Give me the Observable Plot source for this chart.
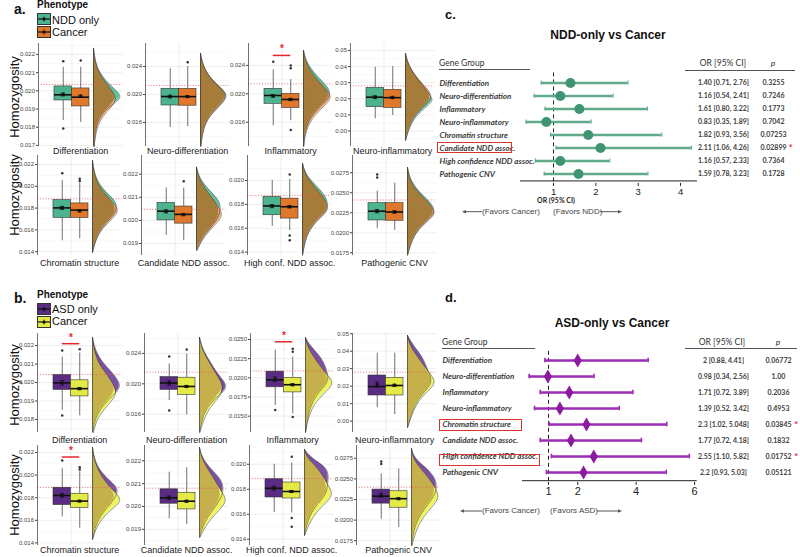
<!DOCTYPE html>
<html><head><meta charset="utf-8">
<script src="https://cdn.jsdelivr.net/npm/d3@7"></script>
<script src="https://cdn.jsdelivr.net/npm/@observablehq/plot@0.6"></script>
<style>
body{margin:0;background:#fff;}
#root{position:relative;width:800px;height:557px;overflow:hidden;font-family:"Liberation Sans",Arial,sans-serif;color:#111;}
.abs{position:absolute;white-space:nowrap;}
</style></head><body><div id="root"></div><script>
// ---------------- DATA ----------------
const genesShort = ["Differentiation","Neuro-differentiation","Inflammatory","Neuro-inflammatory","Chromatin structure","Candidate NDD assoc.","High conf. NDD assoc.","Pathogenic CNV"];
const ticksA = [["0.017","0.018","0.019","0.020","0.021","0.022"],["0.016","0.020","0.024"],["0.016","0.020","0.024"],["0.00","0.01","0.02","0.03","0.04","0.05"],["0.014","0.016","0.018","0.020","0.022"],["0.019","0.020","0.021","0.022"],["0.014","0.016","0.018","0.020"],["0.0175","0.0200","0.0225","0.0250","0.0275"]];
const ticksB = [["0.018","0.019","0.020","0.021","0.022"],["0.016","0.020","0.024"],["0.0150","0.0175","0.0200","0.0225","0.0250"],["0.00","0.01","0.02","0.03","0.04","0.05"],["0.014","0.016","0.018","0.020","0.022"],["0.019","0.020","0.021","0.022"],["0.014","0.016","0.018","0.020"],["0.0175","0.0200","0.0225","0.0250","0.0275"]];
const domainA = [[0.01694,0.0226],[0.01257,0.02729],[0.01258,0.02708],[-0.00963,0.05435],[0.01365,0.02283],[0.01848,0.02281],[0.01372,0.02209],[0.01716,0.02966]];
const domainB = [[0.0173,0.02265],[0.01359,0.02662],[0.01287,0.02578],[-0.00646,0.05011],[0.01377,0.02262],[0.01829,0.02267],[0.0135,0.0215],[0.01692,0.02905]];
// box stats: [lower whisker, q1, median, q3, upper whisker]
const boxNDD = [[0.01837,0.01947,0.01978,0.02024,0.02129],[0.01529,0.01843,0.01971,0.02082,0.0237],[0.0155,0.01859,0.01976,0.0207,0.0234],[0.0076,0.0148,0.021,0.0268,0.0396],[0.0150,0.0171,0.01802,0.01873,0.02053],[0.01935,0.0200,0.0204,0.02076,0.02141],[0.01615,0.01709,0.01787,0.01862,0.0200],[0.0205,0.02154,0.0227,0.0237,0.0252]];
const boxCancerA = [[0.01826,0.01914,0.01965,0.02013,0.0213],[0.0154,0.0184,0.0197,0.0208,0.0240],[0.0162,0.0180,0.0192,0.0200,0.0220],[0.0096,0.0144,0.0207,0.0256,0.0400],[0.0152,0.0171,0.01782,0.01843,0.0203],[0.01912,0.01986,0.02026,0.0206,0.0214],[0.0158,0.01681,0.0178,0.01848,0.0201],[0.0203,0.0215,0.0226,0.0237,0.0262]];
const meanNDD = [0.0198,0.01971,0.0197,0.0210,0.01802,0.02039,0.01785,0.0227];
const meanCancerA = [0.0197,0.0197,0.0192,0.0208,0.01775,0.02025,0.0178,0.0226];
const seNDD = [0.00008,0.0002,0.0002,0.0009,0.00014,0.00007,0.00013,0.0002];
const seCancerA = [0.00006,0.00015,0.00015,0.0007,0.0001,0.00005,0.0001,0.00015];
const outNDD = [[0.02162,0.01793],[],[0.0245],[],[0.0212],[],[],[0.0273,0.0269]];
const outCancerA = [[0.02167],[0.0246],[0.0240,0.0236,0.0149],[],[0.0207,0.0205],[0.0217],[0.0205,0.0154,0.0150],[]];
const boxASD = [[0.01849,0.0196,0.01998,0.0204,0.02137],[0.0178,0.0192,0.0201,0.02088,0.0226],[0.0164,0.01877,0.01974,0.0208,0.0236],[0.0077,0.0147,0.0198,0.0261,0.0389],[0.0163,0.01735,0.0182,0.01888,0.0206],[0.01946,0.02012,0.02038,0.02075,0.0215],[0.01614,0.01734,0.01808,0.0188,0.0200],[0.0201,0.0220,0.0229,0.0237,0.0256]];
const boxCancerB = [[0.0182,0.01925,0.01967,0.02012,0.0216],[0.0159,0.01855,0.01965,0.0208,0.0239],[0.0153,0.0181,0.0191,0.0200,0.0227],[0.0038,0.0147,0.0204,0.0248,0.0389],[0.0153,0.0171,0.0177,0.01835,0.0203],[0.0192,0.01987,0.02023,0.0206,0.0217],[0.0161,0.01726,0.01782,0.01854,0.0201],[0.0191,0.0215,0.0226,0.0235,0.0262]];
const meanASD = [0.01998,0.0201,0.0198,0.0210,0.0182,0.02038,0.01808,0.0230];
const meanCancerB = [0.01967,0.01965,0.0191,0.0205,0.0177,0.02023,0.01782,0.0226];
const seASD = [0.00013,0.0003,0.0003,0.0014,0.00017,0.00008,0.00016,0.00025];
const seCancerB = [0.00006,0.00013,0.00013,0.0006,0.00008,0.00004,0.00008,0.00012];
const outASD = [[0.02173,0.01822],[0.0236,0.0165],[0.0158],[],[0.0213],[],[],[0.0271,0.0268]];
const outCancerB = [[0.0218],[0.0245],[0.0238,0.0234,0.0149],[],[0.0207,0.0205],[],[0.0206,0.0157,0.0150],[]];
const refA = [0.02035,0.0213,0.0214,0.0280,0.01885,0.02048,0.01875,0.0241];
const refB = [0.02043,0.02153,0.0209,0.0280,0.0189,0.0208,0.01885,0.0240];
const sigA = [null,null,0.0254,null,null,null,null,null];
const sigB = [0.0221,null,0.0247,null,0.0216,null,null,null];
// density profiles: [value, relative density group1, relative density group2]
const densA = [
 [[0.02233,0,0],[0.02167,.05,.05],[0.02101,.2,.17],[0.02035,.55,.47],[0.01991,.88,.7],[0.01958,1,.8],[0.0192,.6,.7],[0.01865,.22,.33],[0.01793,.07,.1],[0.01694,.02,.02]],
 [[0.02586,0,0],[0.02414,.08,.08],[0.02229,.35,.33],[0.02086,.75,.72],[0.01986,.97,.93],[0.01871,.75,.78],[0.017,.3,.32],[0.01514,.08,.09],[0.01257,.01,.01]],
 [[0.0261,0,0],[0.0244,.1,.07],[0.02258,.45,.35],[0.02103,.85,.7],[0.02004,.95,.92],[0.0192,.85,.98],[0.01793,.5,.62],[0.01624,.17,.24],[0.0144,.04,.06],[0.01258,0,.01]],
 [[0.0481,0,0],[0.0407,.1,.1],[0.0326,.4,.42],[0.0264,.7,.76],[0.0221,.85,.92],[0.019,1,.86],[0.0146,.7,.6],[0.0065,.2,.18],[-0.0059,0,0]],
 [[0.02237,0,0],[0.02127,.05,.05],[0.02007,.25,.2],[0.01916,.6,.48],[0.01851,.85,.72],[0.01778,.85,.95],[0.01705,.65,.72],[0.01613,.3,.33],[0.01503,.1,.1],[0.01393,0,0]],
 [[0.0223,0,0],[0.02182,.1,.08],[0.0213,.45,.34],[0.02087,.8,.62],[0.02056,.85,.78],[0.02022,.8,.95],[0.01978,.58,.64],[0.01931,.22,.26],[0.0187,0,.02]],
 [[0.02142,0,0],[0.02042,.12,.1],[0.01941,.55,.45],[0.01858,.85,.75],[0.01782,.9,.92],[0.01724,.78,.82],[0.01649,.42,.44],[0.0154,.12,.12],[0.01375,0,0]],
 [[0.02816,0,0],[0.02679,.08,.06],[0.02529,.35,.3],[0.02404,.75,.67],[0.02304,.95,.9],[0.02229,.92,.98],[0.02129,.62,.65],[0.01979,.2,.21],[0.0172,0,0]]
];
const densB = [
 [[0.02243,0,0],[0.02173,.1,.06],[0.02108,.35,.2],[0.02054,.7,.45],[0.02011,.9,.65],[0.01973,1,.8],[0.0193,.72,.85],[0.01876,.35,.52],[0.01805,.08,.15],[0.0173,.01,.03]],
 [[0.02609,0,0],[0.02438,.12,.1],[0.0228,.4,.35],[0.02149,.6,.55],[0.02043,.85,.74],[0.01938,1,.84],[0.0182,.58,.7],[0.0165,.15,.25],[0.0136,0,.01]],
 [[0.02525,0,0],[0.02422,.15,.06],[0.02291,.5,.25],[0.02161,.7,.5],[0.0203,.8,.78],[0.01939,.78,1],[0.01834,.52,.78],[0.01704,.25,.38],[0.01508,.08,.1],[0.01287,0,0]],
 [[0.049,0,0],[0.0433,.2,.08],[0.0375,.5,.32],[0.0318,.65,.57],[0.0261,.8,.85],[0.0221,.85,1],[0.0175,.65,.75],[0.0107,.25,.3],[-0.0036,0,0]],
 [[0.02244,0,0],[0.02147,.06,.05],[0.02041,.25,.2],[0.01952,.6,.42],[0.01881,.92,.65],[0.01811,.82,.95],[0.01758,.68,1],[0.01669,.35,.52],[0.01554,.1,.15],[0.0143,0,0]],
 [[0.02258,0,0],[0.0221,.1,.08],[0.02157,.45,.32],[0.02114,.8,.55],[0.0207,.85,.75],[0.02026,.72,1],[0.01982,.45,.68],[0.0193,.15,.28],[0.01864,0,.01]],
 [[0.02118,0,0],[0.02046,.25,.1],[0.01974,.8,.45],[0.01894,.85,.68],[0.01814,.8,.88],[0.01758,.75,1],[0.01694,.5,.78],[0.0159,.15,.28],[0.0143,0,0]],
 [[0.02869,0,0],[0.02748,.1,.05],[0.02626,.55,.32],[0.02505,.85,.62],[0.02383,.9,.86],[0.02262,.75,1],[0.02117,.4,.6],[0.01934,.1,.2],[0.01692,0,.02]]
];
// forest plots
const forestGenes = ["Differentiation","Neuro-differentiation","Inflammatory","Neuro-inflammatory","Chromatin structure","Candidate NDD assoc.","High confidence NDD assoc.","Pathogenic CNV"];
const orC = [1.40,1.16,1.61,0.83,1.82,2.11,1.16,1.59];
const loC = [0.71,0.54,0.80,0.35,0.93,1.06,0.57,0.78];
const hiC = [2.76,2.41,3.22,1.89,3.56,4.26,2.33,3.23];
const orTextC = ["1.40 [0.71, 2.76]","1.16 [0.54, 2.41]","1.61 [0.80, 3.22]","0.83 [0.35, 1.89]","1.82 [0.93, 3.56]","2.11 [1.06, 4.26]","1.16 [0.57, 2.33]","1.59 [0.78, 3.23]"];
const pTextC = ["0.3255","0.7246","0.1773","0.7042","0.07253","0.02899","0.7364","0.1728"];
const sigC = [false,false,false,false,false,true,false,false];
const orD = [2,0.98,1.71,1.39,2.3,1.77,2.55,2.2];
const loD = [0.88,0.34,0.72,0.52,1.02,0.72,1.10,0.93];
const hiD = [4.41,2.56,3.89,3.42,5.048,4.18,5.82,5.03];
const orTextD = ["2 [0.88, 4.41]","0.98 [0.34, 2.56]","1.71 [0.72, 3.89]","1.39 [0.52, 3.42]","2.3 [1.02, 5.048]","1.77 [0.72, 4.18]","2.55 [1.10, 5.82]","2.2 [0.93, 5.03]"];
const pTextD = ["0.06772","1.00","0.2036","0.4953","0.03845","0.1832","0.01752","0.05121"];
const sigD = [false,false,false,false,true,false,true,false];
const forestTicksC = [1,2,3,4];
const forestTicksD = [1,2,4,6];

// ---------------- LAYOUT ----------------
const root = document.getElementById("root");
const U = 17.5, XMIN = -0.914, XMAX = 3.9, XB = 2.23, VS = 1.62;
const rowsA = [{top:43,bottom:146,labelY:151,boxL:[54,161,264,366]},{top:155,bottom:255,labelY:263,boxL:[53,157,263,368]}];
const rowsB = [{top:333,bottom:432,labelY:440,boxL:[53,160,266,368]},{top:445,bottom:545,labelY:550,boxL:[53,160,265,372]}];
const palA = {box:["#4db38e","#e0782c"], v1:"#5ec59d", v2:"#f0a36e", vo:"#a67c3b"};
const palB = {box:["#5b2c84","#e5eb46"], v1:"#7c50a4", v2:"#eff35c", vo:"#c6b04b"};

function put(el, left, top){ el.style.position="absolute"; el.style.left=left+"px"; el.style.top=top+"px"; root.appendChild(el); }
function txt(s, x, y, fs, extra="", anchor="start"){
  const d=document.createElement("div"); d.className="abs";
  d.style.cssText += `left:${x}px;top:${y}px;font-size:${fs}px;line-height:1;transform:translate(${anchor==="middle"?"-50%":"0"},-50%);${extra}`;
  d.textContent=s; root.appendChild(d); return d;
}

function rain(p){
  const mt=8, mb=16, ml=34, fw=(XMAX-XMIN)*U, width=121;
  const height=p.bottom-p.top+mt+mb;
  const tv=p.ticks.map(Number);
  const fmt=new Map(p.ticks.map(t=>[+t,t]));
  const step=tv[1]-tv[0];
  const minor=[]; for(let v=tv[0]-step/2; v<=p.domain[1]; v+=step){ if(v>=p.domain[0]) minor.push(v); }
  const mk=(s,m,e,x1,fill)=>({x1,x2:x1+1,xc:x1+0.5,lo:s[0],q1:s[1],med:s[2],q3:s[3],hi:s[4],mean:m,se:e,fill});
  const b1=mk(p.s1,p.m1,p.e1,0,p.pal.box[0]), b2=mk(p.s2,p.m2,p.e2,1,p.pal.box[1]);
  const boxes=[b1,b2];
  const outs=[...p.o1.map(v=>({x:0.5,y:v})),...p.o2.map(v=>({x:1.5,y:v}))];
  const dens=p.dens;
  const marks=[
    Plot.ruleY(minor,{stroke:"#f1f1f1",strokeWidth:0.5}),
    Plot.ruleY(tv,{stroke:"#e3e3e3",strokeWidth:0.6}),
    Plot.ruleX([1],{stroke:"#e3e3e3",strokeWidth:0.6}),
    Plot.areaX(dens,{y:d=>d[0],x1:()=>XB,x2:d=>XB+d[1]*VS,fill:p.pal.v1,curve:"basis"}),
    Plot.areaX(dens,{y:d=>d[0],x1:()=>XB,x2:d=>XB+d[2]*VS,fill:p.pal.v2,curve:"basis"}),
    Plot.areaX(dens,{y:d=>d[0],x1:()=>XB,x2:d=>XB+Math.min(d[1],d[2])*VS,fill:p.pal.vo,curve:"basis"}),
    Plot.line(dens,{x:d=>XB+d[1]*VS,y:d=>d[0],curve:"basis",stroke:"#2a2a2a",strokeWidth:0.5}),
    Plot.line(dens,{x:d=>XB+d[2]*VS,y:d=>d[0],curve:"basis",stroke:"#2a2a2a",strokeWidth:0.5}),
    Plot.ruleX([XB],{y1:()=>dens[0][0],y2:()=>dens[dens.length-1][0],stroke:"#2a2a2a",strokeWidth:0.6}),
    Plot.ruleY([p.ref],{stroke:"#e0605e",strokeWidth:0.9,strokeDasharray:"1,1.8"}),
    Plot.ruleX(boxes,{x:"xc",y1:"lo",y2:"q1",stroke:"#333",strokeWidth:0.7}),
    Plot.ruleX(boxes,{x:"xc",y1:"q3",y2:"hi",stroke:"#333",strokeWidth:0.7}),
    Plot.rect([b1],{x1:"x1",x2:"x2",y1:"q1",y2:"q3",fill:p.pal.box[0],stroke:"#333",strokeWidth:0.6}),
    Plot.rect([b2],{x1:"x1",x2:"x2",y1:"q1",y2:"q3",fill:p.pal.box[1],stroke:"#333",strokeWidth:0.6}),
    Plot.ruleY(boxes,{y:"med",x1:"x1",x2:"x2",stroke:"#111",strokeWidth:1.6}),
    Plot.ruleX(boxes,{x:"xc",y1:d=>d.mean-d.se,y2:d=>d.mean+d.se,stroke:"#111",strokeWidth:0.8}),
    Plot.ruleY(boxes,{y:d=>d.mean-d.se,x1:d=>d.xc-0.13,x2:d=>d.xc+0.13,stroke:"#111",strokeWidth:0.7}),
    Plot.ruleY(boxes,{y:d=>d.mean+d.se,x1:d=>d.xc-0.13,x2:d=>d.xc+0.13,stroke:"#111",strokeWidth:0.7}),
    Plot.dot(boxes,{x:"xc",y:"mean",r:1.7,fill:"#111"}),
    Plot.dot(outs,{x:"x",y:"y",r:1.25,fill:"#333"}),
    Plot.ruleX([XMIN],{stroke:"#333",strokeWidth:0.7}),
    Plot.axisY({ticks:tv,tickFormat:d=>fmt.get(d)??"",fontSize:6,tickSize:2,tickPadding:1.5,color:"#444",label:null}),
    Plot.text([p.gene],{text:d=>d,frameAnchor:"bottom",dy:p.labelY-p.bottom,lineAnchor:"middle",fontSize:9,fill:"#1a1a1a"})
  ];
  if(p.sig!=null){
    marks.push(Plot.ruleY([p.sig],{x1:()=>0.5,x2:()=>1.5,stroke:"#e8262a",strokeWidth:1.5}));
    marks.push(Plot.text(["*"],{text:d=>d,x:()=>1,y:()=>p.sig,dy:-3,lineAnchor:"bottom",fill:"#e8262a",fontSize:10,fontWeight:"bold"}));
  }
  const svg=Plot.plot({width,height,marginLeft:ml,marginRight:width-ml-fw,marginTop:mt,marginBottom:mb,
    x:{domain:[XMIN,XMAX],axis:null},y:{domain:p.domain},
    style:{fontFamily:"Liberation Sans, Arial, sans-serif",background:"transparent",overflow:"visible"},marks});
  put(svg,p.boxL-50,p.top-mt);
}

function panel(rows,boxes1,boxes2,m1,m2,e1,e2,o1,o2,dens,ref,sig,ticks,domains,pal){
  for(let i=0;i<8;i++){
    const r=rows[Math.floor(i/4)], c=i%4;
    rain({top:r.top,bottom:r.bottom,labelY:r.labelY,boxL:r.boxL[c],domain:domains[i],ticks:ticks[i],
      s1:boxes1[i],s2:boxes2[i],m1:m1[i],m2:m2[i],e1:e1[i],e2:e2[i],o1:o1[i],o2:o2[i],dens:dens[i],ref:ref[i],sig:sig[i],gene:genesShort[i],pal});
  }
}
panel(rowsA,boxNDD,boxCancerA,meanNDD,meanCancerA,seNDD,seCancerA,outNDD,outCancerA,densA,refA,sigA,ticksA,domainA,palA);
panel(rowsB,boxASD,boxCancerB,meanASD,meanCancerB,seASD,seCancerB,outASD,outCancerB,densB,refB,sigB,ticksB,domainB,palB);

// y titles
for(const cy of [97,195,385,495]){
  const d=txt("Homozygosity",14,cy,13,"color:#111;");
  d.style.transform="translate(-50%,-50%) rotate(-90deg)";
}
// legends
function key(fill,x,y){
  const d=document.createElement("div");
  d.innerHTML=`<svg width="14" height="12" style="display:block"><rect x="0.5" y="0.5" width="13" height="11" fill="${fill}" stroke="#333"/><line x1="1" x2="13" y1="6" y2="6" stroke="#111" stroke-width="1.2"/><line x1="7" x2="7" y1="3.5" y2="8.5" stroke="#111" stroke-width="0.8"/><circle cx="7" cy="6" r="1.6" fill="#111"/></svg>`;
  put(d,x,y);
}
txt("a.",14,9,14,"font-weight:bold;");
txt("Phenotype",37,4.5,10,"font-weight:bold;");
key(palA.box[0],37,13); key(palA.box[1],37,26);
txt("NDD only",52,19.5,11); txt("Cancer",52,32,11);
txt("b.",14,298,14,"font-weight:bold;");
txt("Phenotype",37,294.5,10,"font-weight:bold;");
key(palB.box[0],37,303); key(palB.box[1],37,315.5);
txt("ASD only",52,308.5,11); txt("Cancer",52,321,11);

// ---------------- FOREST ----------------
function forest(p){
  const rows=forestGenes.map((g,i)=>({g,or:p.or[i],lo:p.lo[i],hi:p.hi[i],ot:p.ot[i],pt:p.pt[i],sig:p.sig[i]}));
  const step=(p.height-p.mt-p.mb)/rows.length;
  const capIn=(step-5)/2;
  const marks=[
    Plot.ruleX([1],{stroke:"#222",strokeWidth:1,strokeDasharray:"4,3"}),
    Plot.ruleY(rows,{y:"g",x1:"lo",x2:"hi",stroke:p.color,strokeWidth:2.6}),
    Plot.tickX(rows,{y:"g",x:"lo",stroke:p.color,strokeWidth:p.capW,insetTop:capIn,insetBottom:capIn}),
    Plot.tickX(rows,{y:"g",x:"hi",stroke:p.color,strokeWidth:p.capW,insetTop:capIn,insetBottom:capIn}),
    Plot.dot(rows,{x:"or",y:"g",r:p.r,fill:p.dot,symbol:p.symbol}),
    Plot.text(rows,{y:"g",text:"g",frameAnchor:"left",dx:p.labelDx,textAnchor:"start",fontStyle:"italic",fontWeight:"bold",fontSize:8,fill:"#3a3a3a"}),
    Plot.text(rows,{y:"g",text:"ot",frameAnchor:"right",dx:p.orDx,textAnchor:"middle",fontWeight:"bold",fontSize:7,fill:"#404040"}),
    Plot.text(rows,{y:"g",text:"pt",frameAnchor:"right",dx:p.pDx,textAnchor:"middle",fontWeight:"bold",fontSize:7,fill:"#404040"}),
    Plot.text(rows.filter(d=>d.sig),{y:"g",text:()=>"*",frameAnchor:"right",dx:p.starDx,textAnchor:"middle",fill:"#e0303a",fontSize:10,fontWeight:"bold"}),
    Plot.ruleY([forestGenes[forestGenes.length-1]],{y:d=>d,dy:step/2,stroke:"#222",strokeWidth:1}),
    Plot.axisX({ticks:p.ticks,tickFormat:d=>String(d),tickSize:3,tickPadding:2,fontSize:p.tickFont,color:"#222",label:null,fontFamily:"Liberation Sans, Arial, sans-serif"})
  ];
  const svg=Plot.plot({width:p.width,height:p.height,marginLeft:p.ml,marginRight:p.mr,marginTop:p.mt,marginBottom:p.mb,
    x:{domain:p.domain},y:{type:"band",domain:forestGenes,padding:0,axis:null},
    style:{fontFamily:"Lato, 'Open Sans', sans-serif",background:"transparent",overflow:"visible"},marks});
  put(svg,p.left,p.top);
}
forest({left:420,top:0,width:380,height:220,ml:100,mr:103,mt:72.4,mb:37.1,domain:[0.22,4.40],ticks:forestTicksC,
  or:orC,lo:loC,hi:hiC,ot:orTextC,pt:pTextC,sig:sigC,color:"#62aa8c",dot:"#3f9472",symbol:"circle",r:5,capW:1,
  labelDx:-81,orDx:26,pDx:76,starDx:93,tickFont:9.5});
forest({left:420,top:280,width:380,height:245,ml:102,mr:103.3,mt:70.8,mb:43.1,domain:[0.11,6.09],ticks:forestTicksD,
  or:orD,lo:loD,hi:hiD,ot:orTextD,pt:pTextD,sig:sigD,color:"#9a2cb3",dot:"#8a1a9e",symbol:"diamond",r:4.3,capW:1.6,
  labelDx:-80,orDx:26.3,pDx:81.3,starDx:99,tickFont:11});

const LATO="font-family:Lato,'Open Sans',sans-serif;";
function hline(x1,x2,y){ const d=document.createElement("div"); d.style.cssText=`width:${x2-x1}px;height:0;border-top:1px solid #555;`; put(d,x1,y); }
function redbox(x,y,w,h){ const d=document.createElement("div"); d.style.cssText=`width:${w}px;height:${h}px;border:1.2px solid #d9342b;box-sizing:border-box;`; put(d,x,y); }
// panel c annotations
txt("c.",445,14,13,"font-weight:bold;");
txt("NDD-only vs Cancer",608,35,12,"font-weight:bold;","middle");
txt("Gene Group",439,63,8.5,LATO+"color:#333;");
hline(439,530,69);
txt("OR [95%  CI]",723,63,8.5,LATO+"color:#333;","middle");
txt("p",773,63,8.5,LATO+"color:#333;font-style:italic;","middle");
hline(685,795,70);
txt("OR (95% CI)",556,200,7,LATO+"font-weight:bold;color:#222;","middle");
txt("(Favors Cancer)",482,211.7,8,"color:#444;");
txt("(Favors NDD)",553,211.7,8,"color:#444;");
redbox(437,141.5,75,11);
// panel d annotations
txt("d.",445,297,13,"font-weight:bold;");
txt("ASD-only vs Cancer",612,323,12,"font-weight:bold;","middle");
txt("Gene Group",442,341.7,8.5,LATO+"color:#333;");
hline(442,535,347.7);
txt("OR [95%  CI]",722,341.7,8.5,LATO+"color:#333;","middle");
txt("p",778,341.7,8.5,LATO+"color:#333;font-style:italic;","middle");
hline(685,797,347.7);
txt("(Favors Cancer)",482,511,8,"color:#444;");
txt("(Favors ASD)",550,511,8,"color:#444;");
redbox(439,418.5,83,12);
redbox(439,453.5,101,12.5);
// arrows
const ov=document.createElementNS("http://www.w3.org/2000/svg","svg");
ov.setAttribute("width","800"); ov.setAttribute("height","557"); ov.style.pointerEvents="none";
function arrow(x1,x2,y){ // head at x2
  const dir=Math.sign(x2-x1);
  ov.innerHTML+=`<line x1="${x1}" x2="${x2-dir*3}" y1="${y}" y2="${y}" stroke="#555" stroke-width="1"/><polygon points="${x2},${y} ${x2-dir*4},${y-1.8} ${x2-dir*4},${y+1.8}" fill="#555"/>`;
}
arrow(482,462,211.7); arrow(600,622,211.7);
arrow(482,460,511); arrow(597,622,511);
put(ov,0,0);
</script></body></html>
